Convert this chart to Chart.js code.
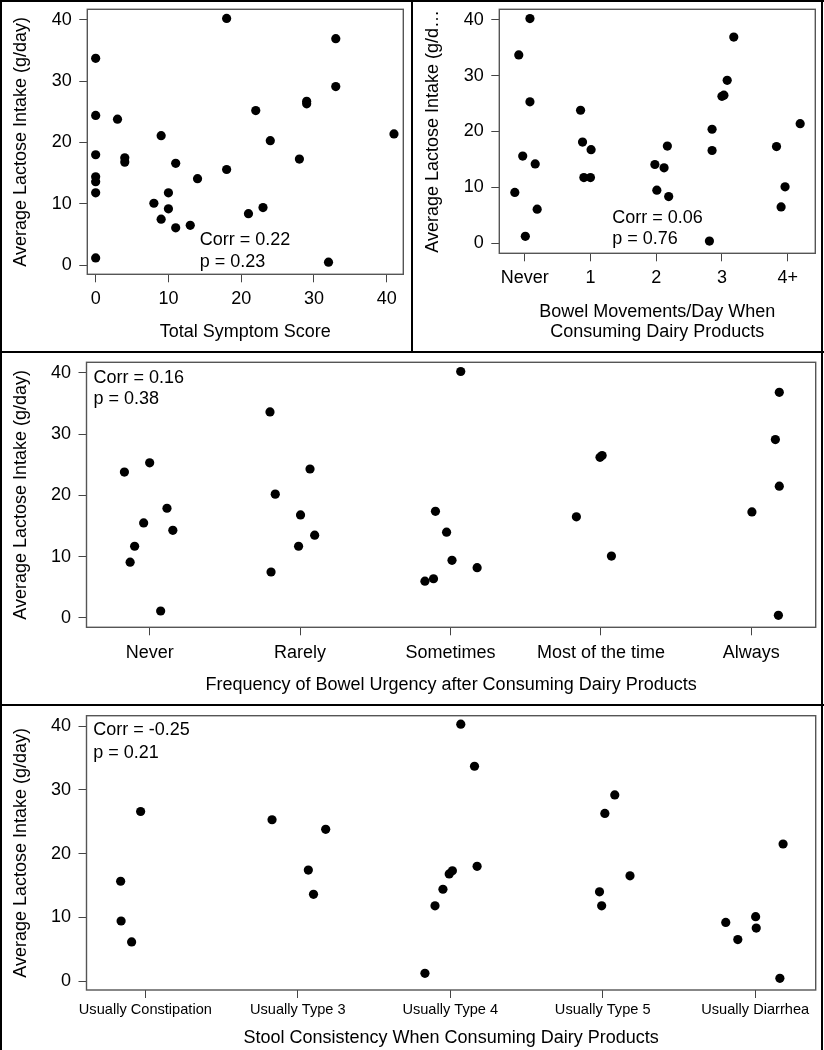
<!DOCTYPE html>
<html><head><meta charset="utf-8">
<script src="https://cdn.jsdelivr.net/npm/chart.js@4.4.1/dist/chart.umd.min.js"></script>
<style>
html,body{margin:0;padding:0;background:#fff;}
#wrap{position:relative;width:824px;height:1050px;overflow:hidden;background:#fff;}
canvas{position:absolute;}
.ln{position:absolute;background:#000;z-index:5;}
</style></head><body>
<div id="wrap">
<canvas id="c1" width="412" height="352" style="left:0;top:0"></canvas>
<canvas id="c2" width="412" height="352" style="left:412px;top:0"></canvas>
<canvas id="c3" width="824" height="352" style="left:0;top:352px"></canvas>
<canvas id="c4" width="824" height="346" style="left:0;top:704px"></canvas>
<div class="ln" style="left:0;top:0;width:2px;height:1050px"></div>
<div class="ln" style="left:0;top:0;width:824px;height:2px"></div>
<div class="ln" style="left:821px;top:0;width:2px;height:1050px"></div>
<div class="ln" style="left:411px;top:0;width:2px;height:352px"></div>
<div class="ln" style="left:0;top:351px;width:824px;height:2px"></div>
<div class="ln" style="left:0;top:704px;width:824px;height:2px"></div>
</div>
<script>
// ---------------- DATA ----------------
const yTicks = [0, 10, 20, 30, 40];

// Panel 1: Total Symptom Score vs lactose
const symptomTicks = [0, 10, 20, 30, 40];
const symptomScore = [18, 33, 0, 33, 29, 29, 22, 0, 3, 9, 41, 24, 0, 4, 4, 28, 11, 18, 14, 0, 0, 0, 10, 8, 10, 23, 21, 9, 11, 13, 0, 32];
const lactoseBySymptom = [40.2, 36.9, 33.7, 29.1, 26.7, 26.3, 25.2, 24.4, 23.8, 21.1, 21.4, 20.3, 18.0, 17.5, 16.8, 17.3, 16.6, 15.6, 14.1, 14.4, 13.6, 11.8, 11.8, 10.1, 9.2, 9.4, 8.4, 7.5, 6.1, 6.5, 1.2, 0.5];

// Panel 2: Bowel movements/day (jittered category position)
const bmLabels = ['Never', '1', '2', '3', '4+'];
const bmPos = [0.08, -0.09, 0.08, -0.03, 0.16, -0.15, 0.19, 0.01,
               0.85, 0.88, 1.01, 0.90, 1.00,
               1.98, 2.12, 2.17, 2.01, 2.19,
               3.18, 3.08, 3.00, 3.03, 2.85, 2.85, 2.81,
               4.19, 3.83, 3.96, 3.90];
const lactoseByBM = [40.2, 33.7, 25.3, 15.6, 14.2, 9.1, 6.1, 1.25,
                     23.8, 18.1, 16.75, 11.75, 11.75,
                     14.1, 13.5, 17.4, 9.5, 8.35,
                     36.9, 29.15, 26.3, 26.5, 20.4, 16.6, 0.4,
                     21.4, 17.3, 10.1, 6.5];

// Panel 3: Frequency of bowel urgency
const urgencyLabels = ['Never', 'Rarely', 'Sometimes', 'Most of the time', 'Always'];
const urgencyPos = [-0.168, 0.0, -0.04, -0.10, -0.13, 0.115, 0.154, 0.073,
                    0.80, 0.835, 1.066, 1.003, 0.99, 1.097, 0.807,
                    2.068, 1.90, 1.974, 2.01, 2.177, 1.83, 1.887,
                    2.837, 2.994, 3.008, 3.07,
                    4.004, 4.186, 4.16, 4.186, 4.18];
const lactoseByUrgency = [23.8, 25.3, 15.5, 11.7, 9.1, 17.9, 14.3, 1.14,
                          33.6, 20.2, 24.3, 16.8, 11.7, 13.5, 7.5,
                          40.2, 17.4, 14.0, 9.4, 8.2, 6.0, 6.4,
                          16.5, 26.2, 26.5, 10.1,
                          17.3, 36.8, 29.1, 21.5, 0.43];

// Panel 4: Stool consistency
const stoolLabels = ['Usually Constipation', 'Usually Type 3', 'Usually Type 4', 'Usually Type 5', 'Usually Diarrhea'];
const stoolPos = [-0.162, -0.159, -0.09, -0.031,
                  0.831, 1.069, 1.103, 1.183,
                  2.069, 2.159, 2.176, 1.993, 2.014, 1.952, 1.90, 1.834,
                  3.079, 3.014, 3.179, 2.979, 2.993,
                  4.183, 4.003, 4.007, 3.807, 3.886, 4.162];
const lactoseByStool = [15.65, 9.42, 6.13, 26.6,
                        25.3, 17.4, 13.6, 23.8,
                        40.3, 33.7, 18.0, 16.8, 17.3, 14.4, 11.8, 1.2,
                        29.2, 26.3, 16.5, 14.0, 11.8,
                        21.5, 10.1, 8.3, 9.2, 6.5, 0.42];

const catTicks = [0, 1, 2, 3, 4];
const Y_TITLE = 'Average Lactose Intake (g/day)';

// ---------------- RENDER ----------------
const FONT = "'Liberation Sans', Arial, Helvetica, sans-serif";

const boxPlugin = {
  id: 'box',
  beforeDatasetsDraw(chart) {
    const a = chart.chartArea, c = chart.ctx;
    c.save();
    c.strokeStyle = '#555';
    c.lineWidth = 1.4;
    c.strokeRect(a.left, a.top, a.right - a.left, a.bottom - a.top);
    c.restore();
  }
};
const annotPlugin = {
  id: 'annot',
  afterDatasetsDraw(chart, args, opts) {
    if (!opts || !opts.lines) return;
    const c = chart.ctx;
    const x = chart.scales.x.getPixelForValue(opts.x);
    const y = chart.scales.y.getPixelForValue(opts.y);
    c.save();
    c.fillStyle = '#000';
    c.font = '18px ' + FONT;
    c.textAlign = 'left';
    c.textBaseline = 'middle';
    opts.lines.forEach((t, i) => c.fillText(t, x, y + i * opts.gap));
    c.restore();
  }
};

function pts(xs, ys) { return xs.map((v, i) => ({x: v, y: ys[i]})); }

function build(id, o) {
  const gridOpt = {display: true, drawOnChartArea: false, drawTicks: true, tickLength: 8, color: '#444', lineWidth: 1};
  return new Chart(document.getElementById(id), {
    type: 'scatter',
    data: {datasets: [{data: o.points, backgroundColor: '#000', borderColor: '#000', borderWidth: 0,
      pointRadius: 4.6, pointHoverRadius: 4.6}]},
    options: {
      responsive: false, animation: false, devicePixelRatio: 1, events: [],
      layout: {autoPadding: false, padding: {top: o.padTop, right: o.padRight, left: 0, bottom: 0}},
      plugins: {legend: {display: false}, tooltip: {enabled: false},
        annot: {lines: o.annot, x: o.annotX, y: o.annotY, gap: o.annotGap}},
      scales: {
        x: {
          type: 'linear', position: 'bottom', min: o.xMin, max: o.xMax,
          afterFit: s => { s.height = o.xAxisH; s.paddingLeft = 0; s.paddingRight = 0; s.paddingTop = 0; s.paddingBottom = 0; },
          afterBuildTicks: s => { s.ticks = o.xTicks.map(v => ({value: v})); },
          ticks: {autoSkip: false, maxRotation: 0, minRotation: 0, padding: o.xTickPad, color: '#000',
            font: {family: FONT, size: o.xTickSize, lineHeight: 1.2},
            callback: (v, i) => o.xLabels[i]},
          grid: gridOpt, border: {display: false},
          title: {display: true, text: o.xTitle, color: '#000',
            font: {family: FONT, size: 18, lineHeight: o.xTitleLH},
            padding: {top: 0, bottom: o.xTitlePad}}
        },
        y: {
          type: 'linear', position: 'left', min: o.yMin, max: o.yMax,
          afterFit: s => { s.width = o.yAxisW; s.paddingLeft = 0; s.paddingRight = 0; s.paddingTop = 0; s.paddingBottom = 0; },
          afterBuildTicks: s => { s.ticks = yTicks.map(v => ({value: v})); },
          ticks: {padding: 7.5, color: '#000', font: {family: FONT, size: 18, lineHeight: 1}},
          grid: gridOpt, border: {display: false},
          title: {display: true, text: o.yTitle, color: '#000',
            font: {family: FONT, size: 18, lineHeight: 1.2}, padding: {top: 10, bottom: 0}}
        }
      }
    },
    plugins: [boxPlugin, annotPlugin]
  });
}

build('c1', {
  points: pts(symptomScore, lactoseBySymptom),
  padTop: 9.3, padRight: 8.7, yAxisW: 87.3, xAxisH: 77.7,
  xMin: -1.15, xMax: 42.28, yMin: -1.47, yMax: 41.69,
  xTicks: symptomTicks, xLabels: symptomTicks.map(String), xTickSize: 18, xTickPad: 5.9,
  xTitle: 'Total Symptom Score', xTitleLH: 1.2, xTitlePad: 9.2,
  yTitle: Y_TITLE,
  annot: ['Corr = 0.22', 'p = 0.23'], annotX: 14.3, annotY: 4.08, annotGap: 21.7
});
build('c2', {
  points: pts(bmPos, lactoseByBM),
  padTop: 9.3, padRight: 8.7, yAxisW: 87.3, xAxisH: 98.7,
  xMin: -0.386, xMax: 4.42, yMin: -1.79, yMax: 41.86,
  xTicks: catTicks, xLabels: bmLabels, xTickSize: 18, xTickPad: 5.6,
  xTitle: ['Bowel Movements/Day When', 'Consuming Dairy Products'], xTitleLH: 1.13, xTitlePad: 9.8,
  yTitle: 'Average Lactose Intake (g/d\u2026',
  annot: ['Corr = 0.06', 'p = 0.76'], annotX: 1.33, annotY: 4.58, annotGap: 21.6
});
build('c3', {
  points: pts(urgencyPos, lactoseByUrgency),
  padTop: 10.3, padRight: 8.3, yAxisW: 86.5, xAxisH: 76.7,
  xMin: -0.42, xMax: 4.428, yMin: -1.52, yMax: 41.70,
  xTicks: catTicks, xLabels: urgencyLabels, xTickSize: 18, xTickPad: 6.9,
  xTitle: 'Frequency of Bowel Urgency after Consuming Dairy Products', xTitleLH: 1.2, xTitlePad: 8.5,
  yTitle: Y_TITLE,
  annot: ['Corr = 0.16', 'p = 0.38'], annotX: -0.374, annotY: 39.15, annotGap: 21
});
build('c4', {
  points: pts(stoolPos, lactoseByStool),
  padTop: 11.7, padRight: 8.3, yAxisW: 86.5, xAxisH: 60,
  xMin: -0.386, xMax: 4.397, yMin: -1.41, yMax: 41.63,
  xTicks: catTicks, xLabels: stoolLabels, xTickSize: 14.6, xTickPad: 3.2,
  xTitle: 'Stool Consistency When Consuming Dairy Products', xTitleLH: 1.2, xTitlePad: 1.2,
  yTitle: Y_TITLE,
  annot: ['Corr = -0.25', 'p = 0.21'], annotX: -0.342, annotY: 39.31, annotGap: 22.3
});
</script>
</body></html>
